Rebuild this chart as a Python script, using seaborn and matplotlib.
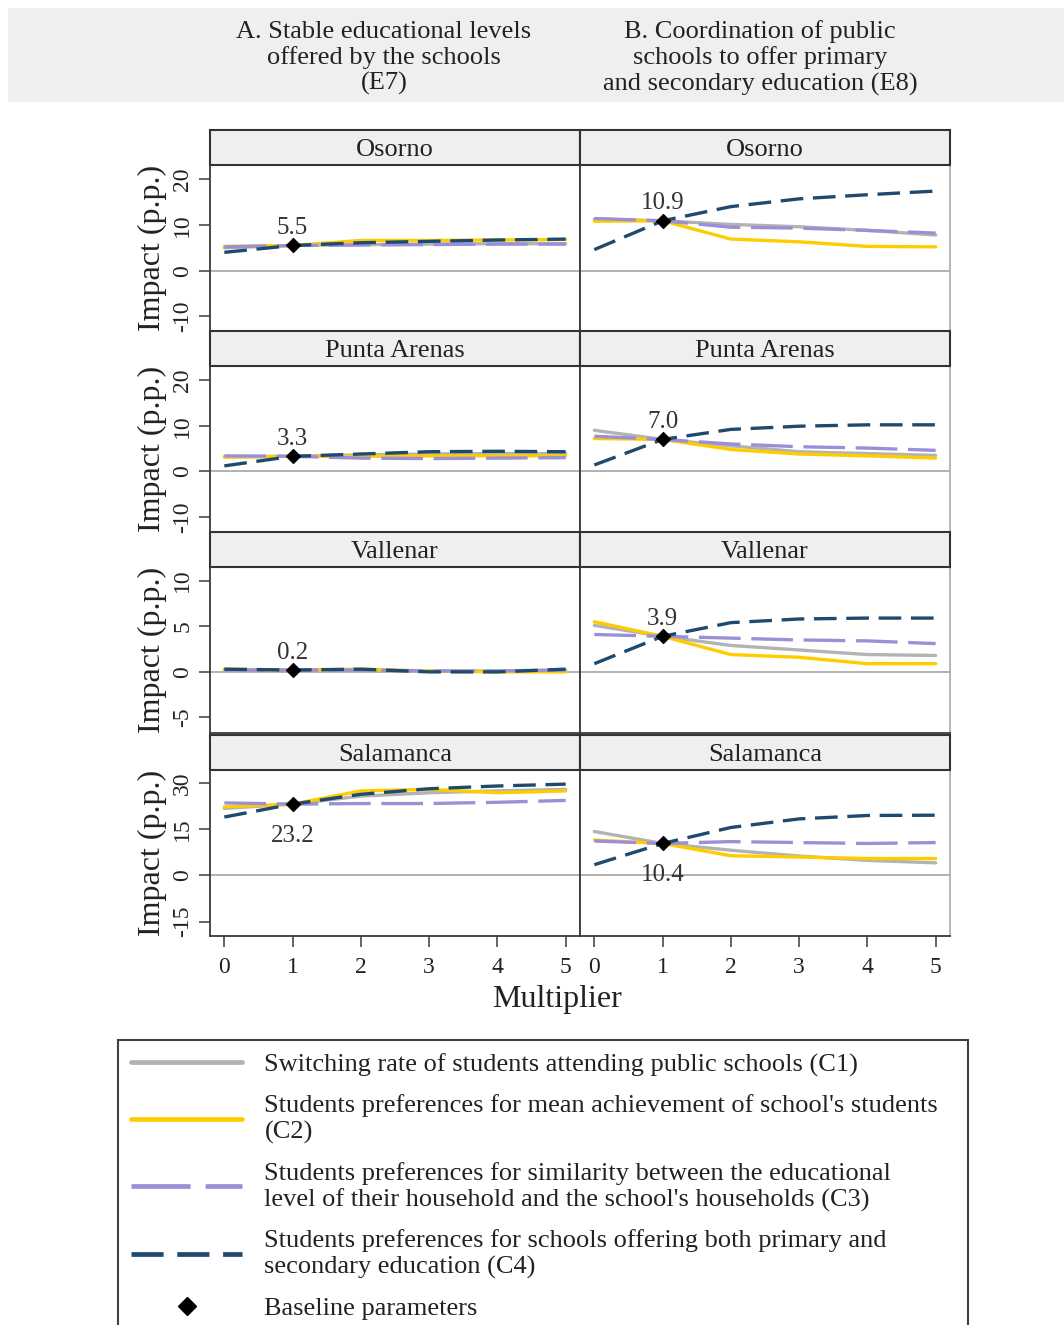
import numpy as np
import pandas as pd
import matplotlib
matplotlib.use("Agg")
import matplotlib.pyplot as plt
import seaborn as sns
from matplotlib.lines import Line2D
from matplotlib.patches import Rectangle

# ---------------------------------------------------------------- data
multiplier = [0, 1, 2, 3, 4, 5]
cities = ["Osorno", "Punta Arenas", "Vallenar", "Salamanca"]
experiments = ["E7", "E8"]
series_keys = ["C1", "C2", "C3", "C4"]

column_titles = [
    "A. Stable educational levels\noffered by the schools\n(E7)",
    "B. Coordination of public\nschools to offer primary\nand secondary education (E8)",
]
series_labels = [
    "Switching rate of students attending public schools (C1)",
    "Students preferences for mean achievement of school's students\n(C2)",
    "Students preferences for similarity between the educational\nlevel of their household and the school's households (C3)",
    "Students preferences for schools offering both primary and\nsecondary education (C4)",
]
baseline_label = "Baseline parameters"

osorno_e7 = {"C1": [5.0, 5.5, 5.7, 5.8, 5.9, 5.9],
             "C2": [5.3, 5.5, 6.6, 6.6, 6.7, 6.8],
             "C3": [5.2, 5.5, 5.6, 5.7, 5.8, 5.8],
             "C4": [4.0, 5.5, 6.1, 6.4, 6.7, 6.9]}
osorno_e8 = {"C1": [11.3, 10.9, 10.1, 9.6, 8.8, 7.8],
             "C2": [10.8, 10.9, 6.9, 6.3, 5.3, 5.2],
             "C3": [11.4, 10.9, 9.5, 9.3, 8.8, 8.2],
             "C4": [4.6, 10.9, 14.0, 15.7, 16.6, 17.4]}
punta_e7 = {"C1": [3.2, 3.3, 3.6, 3.8, 3.9, 3.9],
            "C2": [3.1, 3.3, 3.3, 3.4, 3.4, 3.4],
            "C3": [3.4, 3.3, 2.9, 2.8, 2.9, 3.0],
            "C4": [1.2, 3.3, 3.8, 4.3, 4.4, 4.3]}
punta_e8 = {"C1": [9.0, 7.0, 5.6, 4.3, 3.9, 3.5],
            "C2": [7.2, 7.0, 4.8, 3.8, 3.4, 2.9],
            "C3": [7.7, 7.0, 6.0, 5.4, 5.1, 4.6],
            "C4": [1.4, 7.0, 9.2, 9.9, 10.2, 10.2]}
vallenar_e7 = {"C1": [0.2, 0.2, 0.2, 0.1, 0.1, 0.2],
               "C2": [0.3, 0.2, 0.3, 0.1, 0.0, 0.0],
               "C3": [0.2, 0.2, 0.2, 0.1, 0.1, 0.2],
               "C4": [0.3, 0.2, 0.3, 0.0, 0.0, 0.3]}
vallenar_e8 = {"C1": [5.1, 3.9, 2.9, 2.4, 1.9, 1.8],
               "C2": [5.5, 3.9, 1.9, 1.6, 0.9, 0.9],
               "C3": [4.1, 3.9, 3.7, 3.5, 3.4, 3.1],
               "C4": [0.9, 3.9, 5.4, 5.8, 5.9, 5.9]}
salamanca_e7 = {"C1": [21.8, 23.2, 25.8, 26.9, 27.5, 28.0],
                "C2": [22.3, 23.2, 27.5, 28.0, 26.9, 27.5],
                "C3": [23.6, 23.2, 23.4, 23.4, 23.8, 24.4],
                "C4": [19.0, 23.2, 26.4, 28.2, 29.1, 29.7]}
salamanca_e8 = {"C1": [14.3, 10.4, 8.2, 6.3, 4.9, 4.1],
                "C2": [11.5, 10.4, 6.4, 6.0, 5.5, 5.5],
                "C3": [11.2, 10.4, 11.0, 10.7, 10.4, 10.7],
                "C4": [3.5, 10.4, 15.6, 18.4, 19.5, 19.6]}

panel_data = {
    ("Osorno", "E7"): osorno_e7, ("Osorno", "E8"): osorno_e8,
    ("Punta Arenas", "E7"): punta_e7, ("Punta Arenas", "E8"): punta_e8,
    ("Vallenar", "E7"): vallenar_e7, ("Vallenar", "E8"): vallenar_e8,
    ("Salamanca", "E7"): salamanca_e7, ("Salamanca", "E8"): salamanca_e8,
}
baseline_e7 = [5.5, 3.3, 0.2, 23.2]
baseline_e8 = [10.9, 7.0, 3.9, 10.4]

row_yticks = [[-10, 0, 10, 20], [-10, 0, 10, 20], [-5, 0, 5, 10], [-15, 0, 15, 30]]
row_ylims = [(-13.2, 23.1), (-13.3, 23.1), (-6.7, 11.5), (-19.7, 34.3)]

# long table for seaborn
records = []
for (city, exp), d in panel_data.items():
    for key in series_keys:
        for m, v in zip(multiplier, d[key]):
            records.append({"city": city, "exp": exp, "series": key,
                            "multiplier": m, "impact": v})
df = pd.DataFrame(records)

# ---------------------------------------------------------------- style
sns.set_theme(style="white")
plt.rcParams["font.family"] = ["Liberation Serif", "DejaVu Serif"]
plt.rcParams["axes.unicode_minus"] = False

palette = {"C1": "#b3b3b3", "C2": "#ffcc00", "C3": "#9b90d8", "C4": "#1f4a6e"}
dash_map = {"C1": "", "C2": "", "C3": (12.5, 3.2), "C4": (6.8, 2.9)}
LW = 2.4
TXT = "#222222"

W, H = 1064, 1325
fig = plt.figure(figsize=(W / 100, H / 100), dpi=100)


def fx(px):
    return px / W


def fy(py):
    return 1 - py / H


# header band with the two column titles
fig.add_artist(Rectangle((fx(8), fy(102)), fx(W - 8), 94 / H,
                         transform=fig.transFigure, facecolor="#efefef",
                         edgecolor="none", zorder=0))
for title, cx in zip(column_titles, [384, 760]):
    fig.text(fx(cx), fy(58), title, ha="center", va="center",
             fontsize=19, color=TXT, linespacing=1.17)

col_x = [210, 580]
col_w = 370
plot_tops = [165, 366, 567, 770]
plot_h = 166
strip_h = 35

for i, city in enumerate(cities):
    for j, exp in enumerate(experiments):
        top = plot_tops[i]
        ax = fig.add_axes([fx(col_x[j]), fy(top + plot_h), fx(col_w), plot_h / H])
        sub = df[(df.city == city) & (df.exp == exp)]
        ax.axhline(0, color="#9c9c9c", lw=1.1, zorder=1)
        sns.lineplot(data=sub, x="multiplier", y="impact", hue="series",
                     style="series", hue_order=series_keys,
                     style_order=series_keys, palette=palette,
                     dashes=dash_map, linewidth=LW, legend=False, ax=ax,
                     zorder=3)
        base = (baseline_e7 if exp == "E7" else baseline_e8)[i]
        sns.scatterplot(x=[1], y=[base], marker="D", s=52, color="black",
                        edgecolor="black", linewidth=0.8, zorder=6,
                        legend=False, ax=ax)
        below = city == "Salamanca"
        ax.annotate(f"{base:.1f}", xy=(1, base),
                    xytext=(0, -23 if below else 12.5), textcoords="offset points",
                    ha="center", va="center", fontsize=18, color="#333333",
                    zorder=7)
        ax.set_xlim(-0.21, 5.21)
        ax.set_ylim(*row_ylims[i])
        ax.set_xticks(multiplier)
        ax.set_yticks(row_yticks[i])
        ax.set_xlabel("")
        ax.set_ylabel("")
        for s in ax.spines.values():
            s.set_color("#3a3a3a")
            s.set_linewidth(1.3)
        if j == 1:
            ax.spines["right"].set_color("#b0b0b0")
        if j == 0:
            ax.tick_params(axis="y", which="both", left=True, length=8,
                           width=1.1, color="#3a3a3a", labelsize=17,
                           labelcolor=TXT, pad=4)
            for lab in ax.get_yticklabels():
                lab.set_rotation(90)
                lab.set_va("center")
                lab.set_ha("right")
            ax.set_ylabel("Impact (p.p.)", fontsize=23, color=TXT, labelpad=4)
        else:
            ax.tick_params(axis="y", left=False, labelleft=False)
        if i == len(cities) - 1:
            ax.tick_params(axis="x", which="both", bottom=True, length=8,
                           width=1.1, color="#3a3a3a", labelsize=17,
                           labelcolor=TXT, pad=7)
        else:
            ax.tick_params(axis="x", bottom=False, labelbottom=False)
        # strip title above each panel
        fig.add_artist(Rectangle((fx(col_x[j]), fy(top)), fx(col_w), strip_h / H,
                                 transform=fig.transFigure, facecolor="#efefef",
                                 edgecolor="#333333", lw=1.5, zorder=2))
        fig.text(fx(col_x[j] + col_w / 2), fy(top - strip_h / 2 + 2.5), city,
                 ha="center", va="center", fontsize=19, color=TXT, zorder=3)

fig.text(fx(557), fy(999), "Multiplier", ha="center", va="center",
         fontsize=23, color=TXT)

# legend
handles = []
for key in series_keys:
    d = dash_map[key]
    ls = "-" if d == "" else (0, d)
    handles.append(Line2D([], [], color=palette[key], lw=LW + 1.0,
                          linestyle=ls))
handles.append(Line2D([], [], color="black", marker="D", linestyle="None",
                      markersize=9))
leg = fig.legend(handles, series_labels + [baseline_label],
                 loc="upper left",
                 bbox_to_anchor=(fx(118), fy(1400), fx(850), (1400 - 1040) / H),
                 mode="expand", fontsize=19, frameon=True, fancybox=False,
                 edgecolor="#111111", handlelength=4.2, handletextpad=0.85,
                 borderpad=0.5, labelspacing=0.65, borderaxespad=0)
leg.get_frame().set_linewidth(1.5)
for t in leg.get_texts():
    t.set_color(TXT)
    t.set_linespacing(1.23)

fig.savefig("out.png", dpi=100, facecolor="white")
